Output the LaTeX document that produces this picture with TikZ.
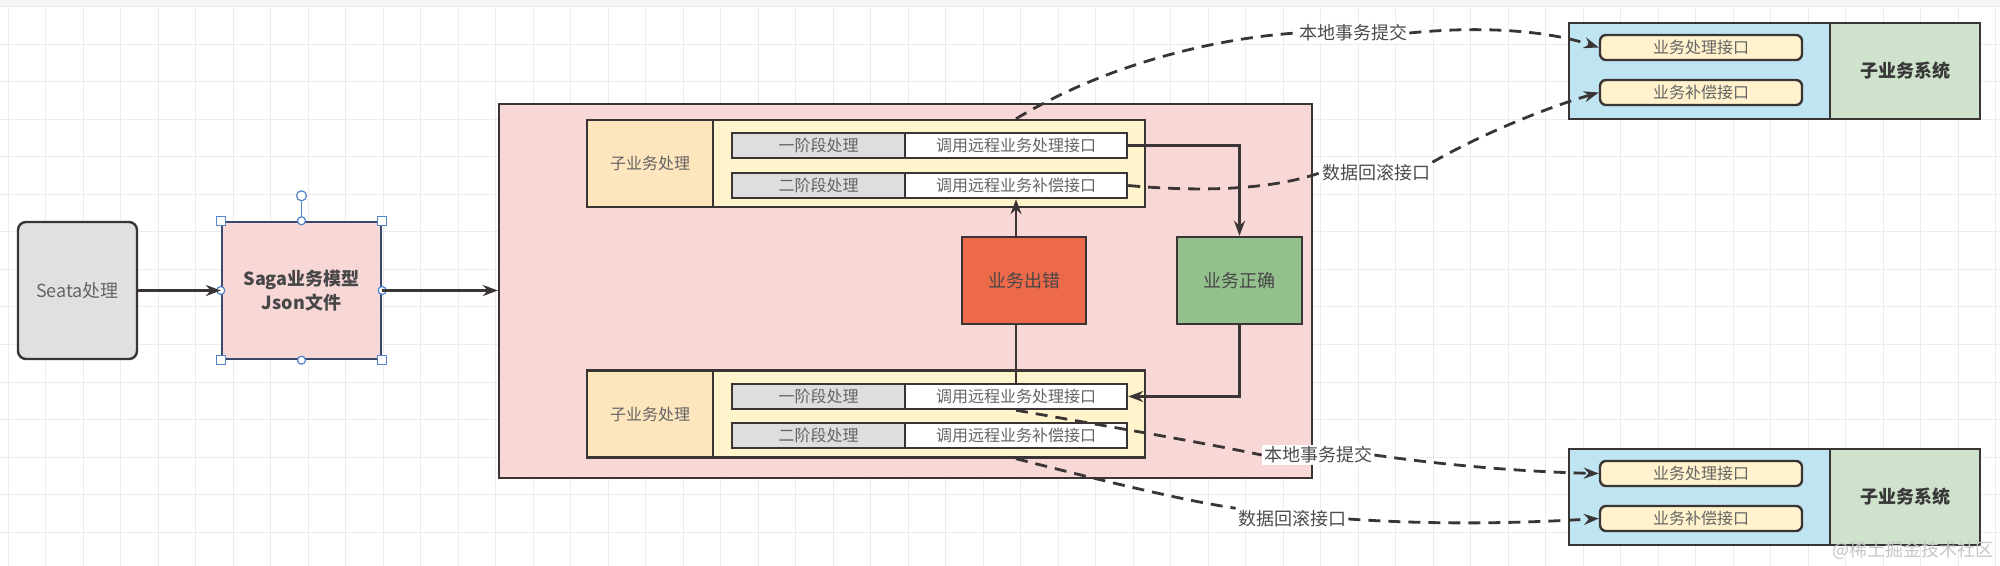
\documentclass[tikz,border=0pt]{standalone}
\usepackage{fontspec}
\setmainfont{Noto Sans CJK SC}
\usepackage{tikz}
\usetikzlibrary{arrows.meta,calc}
\definecolor{edgeC}{RGB}{58,52,52}
\definecolor{txtC}{RGB}{100,100,100}
\definecolor{pinkbg}{RGB}{248,215,215}
\definecolor{subC}{RGB}{253,229,189}
\definecolor{contC}{RGB}{255,244,204}
\definecolor{cellC}{RGB}{222,222,222}
\definecolor{errC}{RGB}{236,105,74}
\definecolor{okC}{RGB}{147,192,140}
\definecolor{sysA}{RGB}{192,229,242}
\definecolor{sysB}{RGB}{207,226,203}
\definecolor{ifC}{RGB}{255,242,204}
\definecolor{seataC}{RGB}{224,224,224}
\definecolor{gridC}{RGB}{236,236,236}
\definecolor{selC}{RGB}{82,132,204}
\definecolor{sagaB}{RGB}{58,72,110}
\newcommand{\fsz}[2]{\fontsize{#1}{#2}\selectfont}

\begin{document}
\begin{tikzpicture}[x=0.5pt,y=-0.5pt,font=\fsz{8pt}{10pt},text=txtC,
  box/.style={draw=edgeC,line width=1.2pt,inner sep=0pt,align=center},
  sub/.style={box,fill=subC,minimum width=63pt,minimum height=43.5pt},
  cont/.style={box,fill=contC,minimum width=216pt,minimum height=43.5pt},
  gcell/.style={box,fill=cellC,minimum width=86.5pt,minimum height=12.5pt},
  wcell/.style={box,fill=white,minimum width=111pt,minimum height=12.5pt},
  state/.style={box,minimum width=62pt,minimum height=43.5pt,font=\fsz{9pt}{11pt},text=black!72},
  sysL/.style={box,fill=sysA,minimum width=130.5pt,minimum height=48pt},
  sysR/.style={box,fill=sysB,minimum width=75pt,minimum height=48pt,font=\fsz{9pt}{11pt}\bfseries,text=black!78},
  iface/.style={box,fill=ifC,rounded corners=3pt,minimum width=101pt,minimum height=12.5pt},
  lbl/.style={fill=white,inner sep=1pt,font=\fsz{9pt}{11pt},text=black!70},
  headed/.style={-{Stealth[length=7.5pt,width=5.5pt]}},
  wire/.style={draw=edgeC,line width=1.2pt},
  conn/.style={wire,headed},
  dashl/.style={draw=edgeC,line width=1.4pt,dash pattern=on 6pt off 4pt},
  hnd/.style={draw=selC,fill=white,line width=0.6pt}]
  \useasboundingbox (0,0) rectangle (2000,566);
  % canvas grid
  \fill[white] (0,0) rectangle (2000,566);
  \fill[gray!7] (0,0) rectangle (2000,7);
  \foreach \gx in {8.2,45.7,...,2000} \draw[gridC,line width=0.5pt] (\gx,7) -- (\gx,566);
  \foreach \gy in {7,44.5,...,566} \draw[gridC,line width=0.5pt] (0,\gy) -- (2000,\gy);
  % left side
  \node[box,rounded corners=4pt,fill=seataC,minimum width=59.5pt,minimum height=68.5pt,font=\fsz{9pt}{11pt}] (seata) at (77.5,290.5) {Seata处理};
  \node[box,draw=sagaB,fill=pinkbg,minimum width=79.5pt,minimum height=68.5pt,font=\fsz{9pt}{12pt}\bfseries,text=black!72] (saga) at (301.5,290.5) {Saga业务模型\\Json文件};
  % selection handles
  \draw[selC,line width=0.6pt] (saga.north) -- ($(saga.north)+(0,-20)$);
  \draw[hnd] ($(saga.north)+(0,-25)$) circle[radius=2.5pt];
  \foreach \a in {north west,north east,south west,south east}
    \draw[hnd] ($(saga.\a)+(-4.5,-4.5)$) rectangle ++(9,9);
  \foreach \a in {north,south,east,west}
    \draw[hnd] (saga.\a) circle[radius=2pt];
  % main frame
  \node[box,fill=pinkbg,minimum width=406.5pt,minimum height=187pt] (main) at (905.5,291) {};
  % upper step group
  \node[sub] (subT) at (650,163.5) {子业务处理};
  \node[cont] (contT) at (929,163.5) {};
  \node[gcell] (g1T) at (818.5,145.5) {一阶段处理};
  \node[wcell] (w1T) at (1016,145.5) {调用远程业务处理接口};
  \node[gcell] (g2T) at (818.5,185.5) {二阶段处理};
  \node[wcell] (w2T) at (1016,185.5) {调用远程业务补偿接口};
  % lower step group
  \node[sub] (subB) at (650,414) {子业务处理};
  \node[cont] (contB) at (929,414) {};
  \node[gcell] (g1B) at (818.5,396.5) {一阶段处理};
  \node[wcell] (w1B) at (1016,396.5) {调用远程业务处理接口};
  \node[gcell] (g2B) at (818.5,435.5) {二阶段处理};
  \node[wcell] (w2B) at (1016,435.5) {调用远程业务补偿接口};
  % outcomes
  \node[state,fill=errC] (err) at (1024,280.5) {业务出错};
  \node[state,fill=okC,minimum width=62.5pt] (ok) at (1239.5,280.5) {业务正确};
  % sub-systems on the right
  \node[sysL] (sysT) at (1699.5,71) {};
  \node[sysR] (sysTn) at (1905,71) {子业务系统};
  \node[iface] (ifT1) at (1701,47.5) {业务处理接口};
  \node[iface] (ifT2) at (1701,92.5) {业务补偿接口};
  \node[sysL] (sysB) at (1699.5,497) {};
  \node[sysR] (sysBn) at (1905,497) {子业务系统};
  \node[iface] (ifB1) at (1701,473.5) {业务处理接口};
  \node[iface] (ifB2) at (1701,518.5) {业务补偿接口};
  % solid connectors
  \draw[conn] (seata) -- (saga);
  \draw[conn] (saga.east) -- (saga.east -| main.west);
  \draw[conn] (err.north -| w2T.south) -- (w2T.south);
  \draw[wire] (w1B.north) -- (w1B.north |- err.south);
  \draw[conn] (w1T.east) -| (ok.north);
  \draw[conn] (ok.south) |- (w1B.east);
  % edge labels
  \node[lbl] (l1) at (1353,33) {本地事务提交};
  \node[lbl] (l2) at (1376,173) {数据回滚接口};
  \node[lbl] (l3) at (1318,455) {本地事务提交};
  \node[lbl] (l4) at (1292,519) {数据回滚接口};
  % dashed calls to the sub-systems
  \draw[dashl] (w1T.north |- contT.north) .. controls (1110,62) and (1220,38) .. (l1.west);
  \draw[dashl,headed] (l1.east) .. controls (1480,26) and (1545,30) .. (ifT1.west);
  \draw[dashl] (w2T.east) .. controls (1200,192) and (1270,190) .. (l2.west);
  \draw[dashl,headed] (l2.north east) .. controls (1480,135) and (1545,108) .. (ifT2.west);
  \draw[dashl] (w1B.south) .. controls (1100,425) and (1200,442) .. (l3.west);
  \draw[dashl,headed] (l3.east) .. controls (1450,466) and (1530,472) .. (ifB1.west);
  \draw[dashl] (w2B.south |- contB.south) .. controls (1100,480) and (1180,500) .. (l4.north west);
  \draw[dashl,headed] (l4.east) .. controls (1450,526) and (1540,522) .. (ifB2.west);
  % watermark
  \node[text=gray!45,font=\fsz{9pt}{11pt}] (wm) at (1913,550) {@稀土掘金技术社区};
\end{tikzpicture}
\end{document}
